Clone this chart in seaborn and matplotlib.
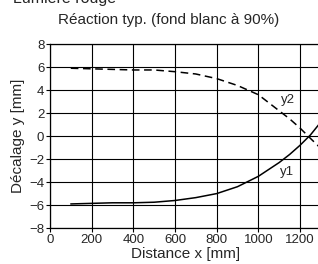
import numpy as np
import pandas as pd
import matplotlib
matplotlib.use("Agg")
import matplotlib.pyplot as plt
import seaborn as sns

# values
distance = [100, 200, 300, 400, 500, 600, 700, 800, 900, 1000, 1100, 1150, 1200, 1250, 1290]
y1 = [-5.9, -5.85, -5.8, -5.8, -5.75, -5.6, -5.35, -5.0, -4.4, -3.5, -2.3, -1.6, -0.8, 0.1, 1.0]
y2 = [5.9, 5.85, 5.8, 5.75, 5.75, 5.6, 5.4, 5.0, 4.4, 3.6, 2.2, 1.5, 0.7, -0.2, -0.9]

x_ticks = [0, 200, 400, 600, 800, 1000, 1200]
y_ticks = [-8, -6, -4, -2, 0, 2, 4, 6, 8]

df = pd.DataFrame({"x": distance + distance,
                   "y": y1 + y2,
                   "serie": ["y1"] * len(distance) + ["y2"] * len(distance)})

sns.set_style("white")
plt.rcParams["font.family"] = ["Liberation Sans", "DejaVu Sans"]

fig = plt.figure(figsize=(3.18, 2.64), dpi=100)
ax = fig.add_axes([0.157, 0.136, 0.852, 0.697])

sns.lineplot(data=df, x="x", y="y", style="serie", dashes={"y1": "", "y2": (5, 3)},
             color="black", linewidth=1.1, legend=False, ax=ax)

ax.set_xlim(0, 1300)
ax.set_ylim(-8, 8)
ax.set_xticks(x_ticks)
ax.set_yticks(y_ticks)
ax.grid(True, color="black", linewidth=0.8)
for s in ax.spines.values():
    s.set_color("black")
    s.set_linewidth(0.9)
ax.tick_params(labelsize=9.5, length=3, width=0.8, color="black", pad=1, direction="out",
               bottom=True, left=True)

ax.set_xlabel("Distance x [mm]", fontsize=11, labelpad=1)
ax.set_ylabel("Décalage y [mm]", fontsize=11, labelpad=3)

ax.text(1140, 3.1, "y2", fontsize=9.5, ha="center", va="center")
ax.text(1140, -3.1, "y1", fontsize=9.5, ha="center", va="center")

fig.text(0.53, 1 - 20 / 264, "Réaction typ. (fond blanc à 90%)", fontsize=11, ha="center", va="center")
fig.text(13 / 318, 1 - 3 / 264, "Lumière rouge", fontsize=11.5, ha="left", va="baseline")

fig.savefig("out.png", dpi=100)
